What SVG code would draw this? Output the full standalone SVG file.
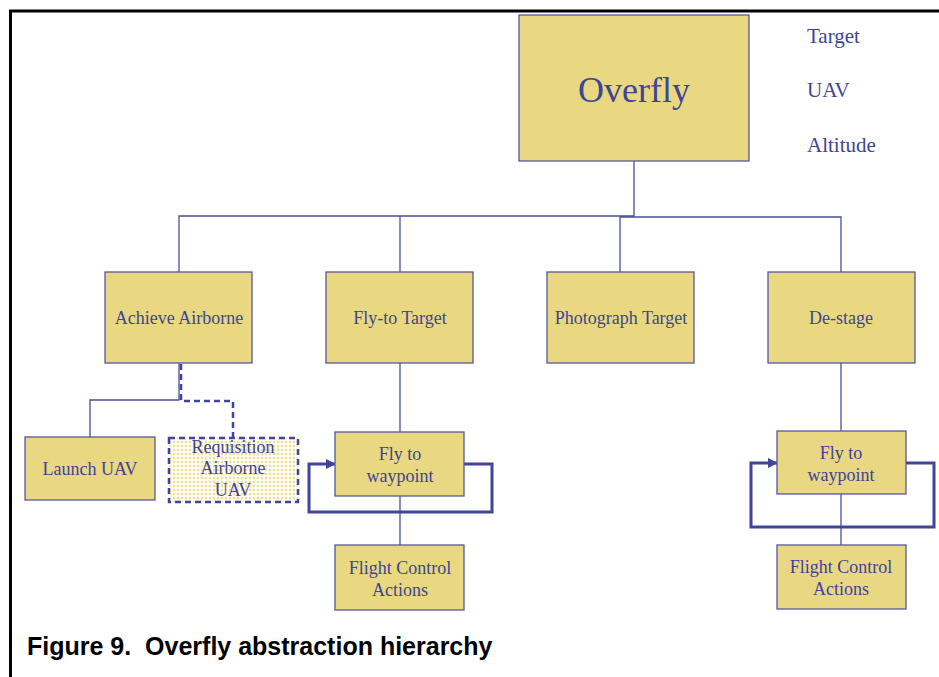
<svg xmlns="http://www.w3.org/2000/svg" width="939" height="677" viewBox="0 0 939 677">
<style>
.box{fill:#EAD782;stroke:#5558a0;stroke-width:1.3}
.t{font-family:"Liberation Serif","Times New Roman",serif;fill:#3d4596;text-anchor:middle;font-size:18px}
.side{font-family:"Liberation Serif","Times New Roman",serif;fill:#3d4596;font-size:21px}
.ln{fill:none;stroke:#4a4f9a;stroke-width:1.3}
.loop{fill:none;stroke:#40449a;stroke-width:3}
.dash{fill:none;stroke:#40449a;stroke-width:2.5;stroke-dasharray:6 4}
</style>
<defs>
<pattern id="dots" width="4" height="4" patternUnits="userSpaceOnUse">
<rect width="4" height="4" fill="#fffdf2"/>
<circle cx="2" cy="2" r="1.2" fill="#f0dd96"/>
</pattern>
<marker id="arr" markerWidth="10" markerHeight="10" refX="9" refY="5" orient="auto" markerUnits="userSpaceOnUse">
<path d="M0,0 L10,5 L0,10 z" fill="#40449a"/>
</marker>
</defs>
<rect width="939" height="677" fill="#fff"/>
<path d="M10.5,677 V11 H939" fill="none" stroke="#000" stroke-width="3"/>

<g id="connectors">
<path class="ln" d="M634,161 V216 H179 V272"/>
<path class="ln" d="M400,216 V272"/>
<path class="ln" d="M620,272 V217 H841 V272"/>
<path class="ln" d="M179,363 V400 H90 V437"/>
<path class="dash" d="M181,364 V401 H233 V438"/>
<path class="ln" d="M400,363 V432"/>
<path class="ln" d="M400,496 V545"/>
<path class="ln" d="M841,363 V431"/>
<path class="ln" d="M841,494 V545"/>
<path class="loop" d="M464,464 H492 V512 H309 V464 H335" marker-end="url(#arr)"/>
<path class="loop" d="M906,463 H934 V527 H751 V463 H777" marker-end="url(#arr)"/>
</g>

<g id="overfly">
<rect class="box" x="519" y="15" width="230" height="146"/>
<text class="t" x="634" y="102" style="font-size:36px">Overfly</text>
</g>
<g id="params">
<text class="side" x="807" y="43">Target</text>
<text class="side" x="807" y="97">UAV</text>
<text class="side" x="807" y="152">Altitude</text>
</g>
<g id="achieve-airborne">
<rect class="box" x="105" y="272" width="147" height="91"/>
<text class="t" x="179" y="324">Achieve Airborne</text>
</g>
<g id="fly-to-target">
<rect class="box" x="326" y="272" width="147" height="91"/>
<text class="t" x="400" y="324">Fly-to Target</text>
</g>
<g id="photograph-target">
<rect class="box" x="547" y="272" width="147" height="91"/>
<text class="t" x="621" y="324">Photograph Target</text>
</g>
<g id="de-stage">
<rect class="box" x="768" y="272" width="147" height="91"/>
<text class="t" x="841" y="324">De-stage</text>
</g>
<g id="launch-uav">
<rect class="box" x="25" y="437" width="130" height="63"/>
<text class="t" x="90" y="475">Launch UAV</text>
</g>
<g id="requisition">
<rect x="169" y="438" width="129" height="64" fill="url(#dots)" stroke="#40449a" stroke-width="2.5" stroke-dasharray="6 4"/>
<text class="t" x="233" y="453">Requisition</text>
<text class="t" x="233" y="474">Airborne</text>
<text class="t" x="233" y="496">UAV</text>
</g>
<g id="fly-waypoint-1">
<rect class="box" x="335" y="432" width="129" height="64"/>
<text class="t" x="400" y="460">Fly to</text>
<text class="t" x="400" y="482">waypoint</text>
</g>
<g id="fly-waypoint-2">
<rect class="box" x="777" y="431" width="129" height="63"/>
<text class="t" x="841" y="459">Fly to</text>
<text class="t" x="841" y="481">waypoint</text>
</g>
<g id="fca-1">
<rect class="box" x="335" y="545" width="129" height="65"/>
<text class="t" x="400" y="574">Flight Control</text>
<text class="t" x="400" y="596">Actions</text>
</g>
<g id="fca-2">
<rect class="box" x="777" y="545" width="129" height="64"/>
<text class="t" x="841" y="573">Flight Control</text>
<text class="t" x="841" y="595">Actions</text>
</g>
<text x="27" y="655" xml:space="preserve" style="white-space:pre" font-family="'Liberation Sans',Arial,sans-serif" font-weight="bold" font-size="25" fill="#000">Figure 9.  Overfly abstraction hierarchy</text>
</svg>
